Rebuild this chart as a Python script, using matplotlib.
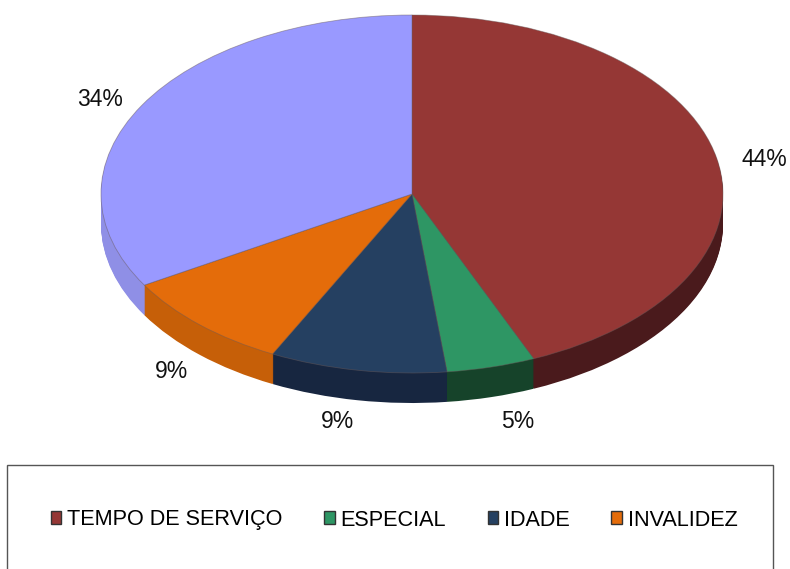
import matplotlib
matplotlib.use("Agg")
import matplotlib.pyplot as plt
from matplotlib.patches import Patch, Rectangle

plt.rcParams['font.family'] = ['Liberation Sans', 'DejaVu Sans']

# Data, shares
categories = ['TEMPO DE SERVIÇO', 'ESPECIAL', 'IDADE', 'INVALIDEZ', 'OUTRAS']
shares = [43.6, 4.6, 9.2, 9.1, 33.5]
pct_labels = ['44%', '5%', '9%', '9%', '34%']

top_colors = ['#953735', '#2e9664', '#254061', '#e46c0a', '#9999ff']
wall_colors = ['#4a1a1c', '#16432a', '#172640', '#c65f08', '#8f8fe6']

# Ellipse geometry in pixels of the 790x569 picture
W, H = 790, 569
cx, cy = 412, 194
rx, ry = 311, 179
depth = 30

# pixel position of each percent label
label_px = [(764, 159), (518, 421), (337, 422), (171, 371), (100, 99)]

fig = plt.figure(figsize=(W / 100, H / 100), dpi=100)
ax = fig.add_axes([0, 0, 1, 1])

# Side wall: stack of darker pies going downward
for d in range(depth, 0, -1):
    ax.pie(shares, colors=wall_colors, startangle=90, counterclock=False,
           center=(0, -d / ry), radius=1, wedgeprops={'linewidth': 0})

# Top face
ax.pie(shares, colors=top_colors, startangle=90, counterclock=False,
       center=(0, 0), radius=1,
       wedgeprops={'linewidth': 0.6, 'edgecolor': '#6a5a5a80'})

ax.set_aspect('auto')
ax.set_xlim(-cx / rx, (W - cx) / rx)
ax.set_ylim((cy - H) / ry, cy / ry)
ax.axis('off')

for txt, (px, py) in zip(pct_labels, label_px):
    fig.text(px / W, 1 - py / H, txt, fontsize=16.5, ha='center', va='center',
             color='#111111')

# Legend box runs off the bottom of the picture
fig.add_artist(Rectangle((7 / W, -0.05), 766 / W, (H - 465) / H + 0.05,
                         transform=fig.transFigure, facecolor='white',
                         edgecolor='#555555', linewidth=1, zorder=2))

handles = [Patch(facecolor=c, edgecolor='#333333', linewidth=1)
           for c in top_colors[:4]]
leg = fig.legend(handles, categories[:4], ncol=4, frameon=False,
                 loc='center', bbox_to_anchor=(394 / W, 1 - 520 / H),
                 fontsize=15.6, handlelength=0.5, handleheight=0.55,
                 handletextpad=0.25, columnspacing=1.93, borderpad=0)
leg.set_zorder(3)

fig.savefig('out.png', dpi=100)
